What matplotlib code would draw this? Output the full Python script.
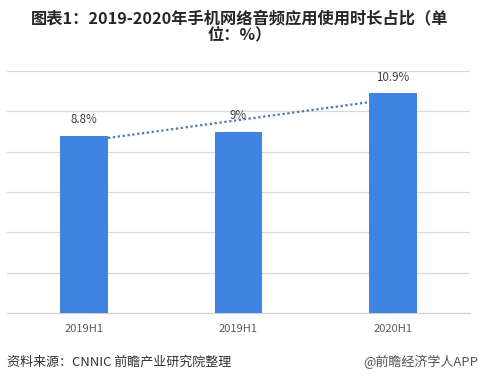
import numpy as np
import matplotlib
matplotlib.use("Agg")
import matplotlib.pyplot as plt

plt.rcParams['font.family'] = ['Noto Sans CJK SC', 'DejaVu Sans']

# 数据
categories = ["2019H1", "2019H1", "2020H1"]
values = [8.8, 9.0, 10.9]
labels = ["8.8%", "9%", "10.9%"]

title = "图表1：2019-2020年手机网络音频应用使用时长占比（单\n位：%）"
source = "资料来源：CNNIC 前瞻产业研究院整理"
credit = "@前瞻经济学人APP"

fig = plt.figure(figsize=(4.79, 3.83), dpi=100)
ax = fig.add_axes([0.0146, 0.1828, 0.9666, 0.6318])

x = np.arange(len(categories))
bar_w = 0.31
ax.bar(x, values, width=bar_w, color="#3F84E0", zorder=3)

# 线性趋势线
k, b = np.polyfit(x, values, 1)
tx = np.array([x[0] + bar_w / 2, x[-1] - bar_w / 2])
ax.plot(tx, k * tx + b, linestyle=(0, (1, 1.2)), color="#4A77B4", lw=1.6, zorder=4)

for xi, v, lab in zip(x, values, labels):
    ax.text(xi, v + 0.45, lab, ha="center", va="bottom", fontsize=8.3, color="#404040")

ax.set_xlim(-0.5, len(categories) - 0.5)
ax.set_ylim(0, 12)
ax.set_yticks(np.arange(0, 13, 2))
ax.set_yticklabels([])
ax.set_xticks(x)
ax.set_xticklabels(categories, fontsize=8, color="#595959")
ax.tick_params(length=0, pad=8)
ax.grid(axis="y", color="#D9D9D9", lw=0.9, zorder=0)
for s in ["top", "right", "left"]:
    ax.spines[s].set_visible(False)
ax.spines["bottom"].set_color("#D0D0D0")

fig.text(0.5, 0.972, title, ha="center", va="top", fontsize=11.7,
         fontweight="bold", color="#262626", linespacing=1.05)
fig.text(0.015, 0.055, source, ha="left", va="center", fontsize=9.4, color="#333333")
fig.text(0.998, 0.055, credit, ha="right", va="center", fontsize=9.4, color="#555555")

fig.savefig("out.png", dpi=100)
